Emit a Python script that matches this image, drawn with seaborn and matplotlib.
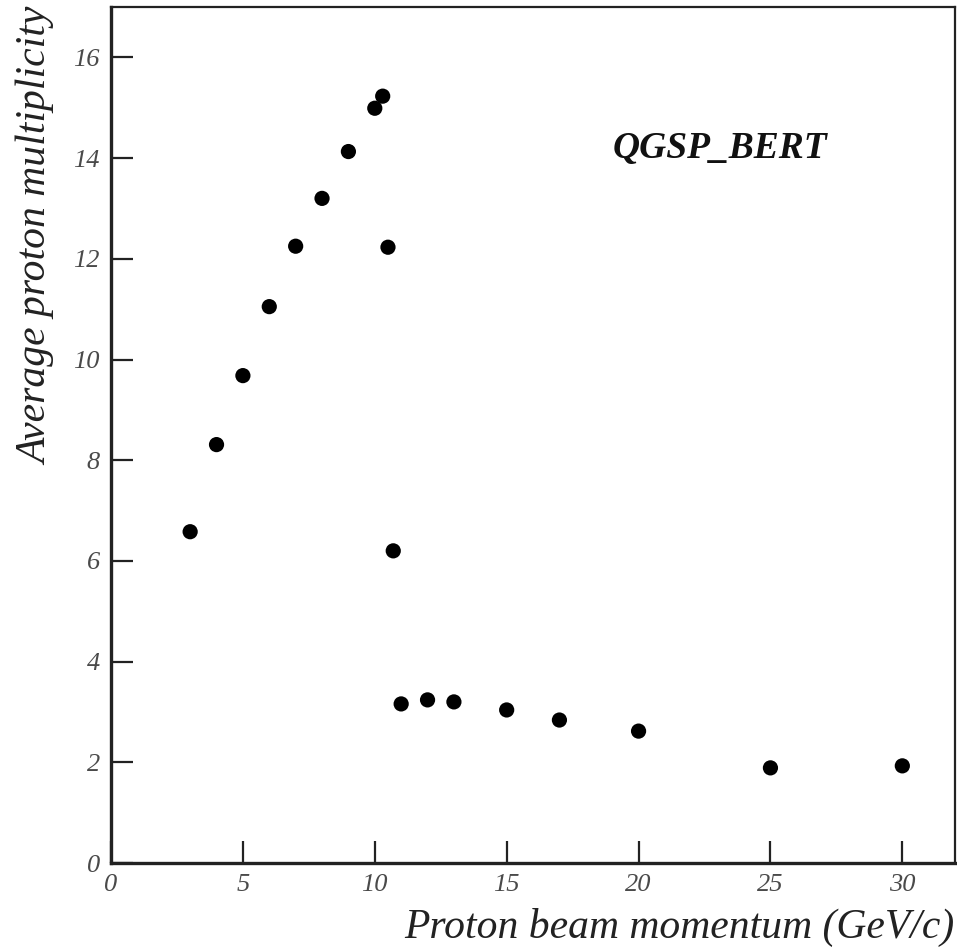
import matplotlib
matplotlib.use("Agg")
import matplotlib.pyplot as plt
import seaborn as sns
import pandas as pd

momentum = [3, 4, 5, 6, 7, 8, 9, 10, 10.3, 10.5, 10.7, 11, 12, 13, 15, 17, 20, 25, 30]
multiplicity = [6.58, 8.31, 9.68, 11.05, 12.25, 13.2, 14.13, 14.99, 15.23, 12.23, 6.2,
                3.16, 3.24, 3.2, 3.04, 2.84, 2.62, 1.89, 1.93]
x_ticks = [0, 5, 10, 15, 20, 25, 30]
y_ticks = [0, 2, 4, 6, 8, 10, 12, 14, 16]
model_label = "QGSP_BERT"
x_label = "Proton beam momentum (GeV/c)"
y_label = "Average proton multiplicity"

sns.set_style("white")
plt.rcParams['font.family'] = ['Liberation Serif', 'DejaVu Serif']

df = pd.DataFrame({"p": momentum, "m": multiplicity})

fig = plt.figure(figsize=(9.57, 9.51), dpi=100)
ax = fig.add_axes([0.116, 0.0925, 0.882, 0.9001])
sns.scatterplot(data=df, x="p", y="m", ax=ax, color="black", s=120, edgecolor="none",
                legend=False)

ax.set_xlim(0, 32)
ax.set_ylim(0, 17)
ax.set_xticks(x_ticks)
ax.set_yticks(y_ticks)
ax.tick_params(direction="in", length=16, width=1.6, color="#222222",
               labelsize=19, labelcolor="#4a4a4a", pad=8,
               bottom=True, left=True, top=False, right=False)
for lab in ax.get_xticklabels() + ax.get_yticklabels():
    lab.set_fontstyle("italic")

for side in ["left", "bottom"]:
    ax.spines[side].set_linewidth(2.4)
    ax.spines[side].set_color("#222222")
for side in ["top", "right"]:
    ax.spines[side].set_linewidth(1.6)
    ax.spines[side].set_color("#222222")
    ax.spines[side].set_visible(True)

ax.set_xlabel(x_label, fontsize=30, fontstyle="italic", color="#222222")
ax.set_ylabel(y_label, fontsize=30, fontstyle="italic", color="#222222")
ax.xaxis.set_label_coords(0.999, -0.075)
ax.xaxis.label.set_horizontalalignment("right")
ax.xaxis.label.set_verticalalignment("center")
ax.yaxis.set_label_coords(-0.088, 0.999)
ax.yaxis.label.set_horizontalalignment("right")
ax.yaxis.label.set_verticalalignment("center")

ax.text(19.0, 14.2, model_label, fontsize=27, fontstyle="italic", fontweight="bold",
        color="#111111", va="center", ha="left")

fig.savefig("out.png", dpi=100)
